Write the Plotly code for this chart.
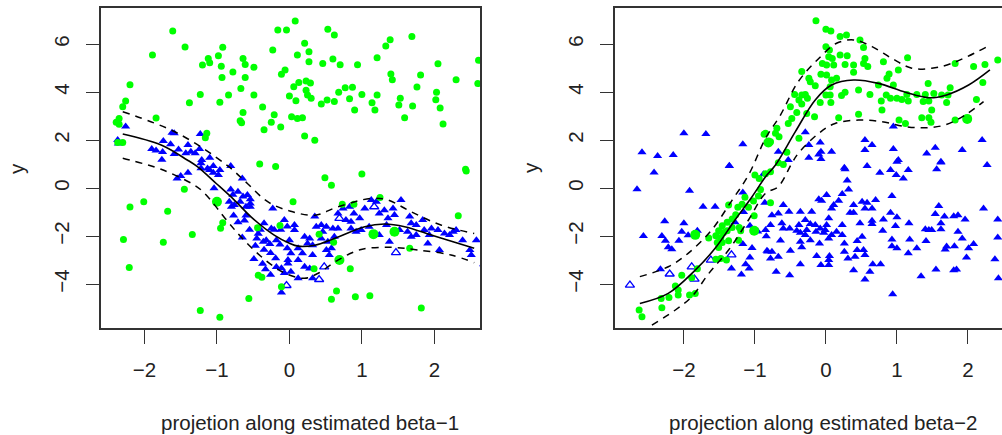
import plotly.graph_objects as go

# ---------------- Left panel: projection along beta-1 ----------------
green1_x = [-1.61,-0.16,-0.04,-1.44,-0.92,-1.89,-0.23,-1.12,-0.98,-0.64,-1.20,-1.10,-0.94,-0.61,-0.49,-0.78,-0.93,-0.61,-0.11,-0.06,
            -2.20,-0.67,-1.23,-0.84,-0.49,0.00,-2.26,-1.38,-0.96,-2.30,-0.37,-0.64,-0.21,-0.68,-0.66,-0.25,-0.35,-0.12,-1.84,-2.35,
            -2.39,-2.35,-1.14,-1.16,-2.30,-2.37,-0.41,-0.19,
            0.08,0.53,0.62,0.21,0.11,0.27,0.27,0.46,0.60,0.70,0.94,1.21,1.33,1.39,1.69,2.05,2.61,1.40,1.42,1.81,2.30,2.60,
            0.13,0.23,0.29,0.06,0.77,0.87,0.68,0.23,0.25,0.30,0.09,0.44,0.52,0.62,0.83,1.00,1.21,1.14,0.90,1.18,
            1.53,1.51,1.76,1.70,1.59,2.03,2.02,2.08,2.12,0.03,0.11,0.18,0.21,0.35,2.43,
            -1.45,-2.01,-2.20,-1.68,-0.92,-0.95,-2.29,-1.74,-1.34,-2.21,-0.44,-0.13,-0.43,-0.38,-0.56,-0.11,-1.23,-0.96,
            0.49,0.58,1.00,2.44,0.05,0.73,0.89,1.25,2.33,0.41,0.61,0.84,0.34,1.66,0.65,0.58,0.91,1.11,1.82]
green1_y = [6.54,6.58,6.58,5.88,5.86,5.54,5.75,5.40,5.51,5.40,5.13,5.22,5.07,5.15,5.03,4.83,4.60,4.60,4.74,4.92,
            4.30,4.15,3.90,3.88,3.88,3.83,3.63,3.55,3.57,3.39,3.38,3.15,3.05,2.80,2.72,2.74,2.43,2.54,2.92,2.90,
            2.74,2.66,2.28,2.10,1.90,1.90,1.00,0.90,
            6.96,6.61,6.38,6.03,5.54,5.68,5.26,5.19,5.38,5.14,5.14,5.43,5.92,6.18,6.31,5.18,5.32,4.75,4.51,4.71,4.51,4.35,
            4.40,4.46,4.38,4.22,4.18,4.20,3.99,4.07,3.88,3.74,3.64,3.50,3.67,3.60,3.72,3.90,3.88,3.55,3.25,3.25,
            3.74,3.46,4.21,3.42,2.93,3.99,3.68,3.33,2.67,2.97,2.90,2.93,2.17,1.99,0.78,
            -0.05,-0.57,-0.79,-0.97,-1.45,-1.67,-2.14,-2.26,-1.93,-3.31,-1.65,-1.56,-3.63,-3.72,-4.60,-4.11,-5.10,-5.38,
            0.43,0.12,0.58,0.71,-0.57,-0.68,-0.68,-0.39,-1.15,-1.92,-2.26,-3.36,-3.36,-2.51,-4.29,-4.63,-4.53,-4.49,-5.00]
green1_big_x = [-1.00, 1.16, 1.45, 0.69]
green1_big_y = [-0.57, -1.92, -1.82, -3.00]

blue1_x = [-2.26,-2.37,-2.36,-1.62,-1.59,-1.23,-1.74,-1.64,-1.90,-1.84,-1.75,-1.53,-1.40,-1.36,-1.24,-1.30,-1.43,-1.59,-1.76,-1.21,
           -1.10,-1.22,-1.05,-1.13,-0.81,
           -1.40,-1.55,-1.50,-1.22,-1.10,-1.05,-0.98,-0.96,-1.04,-0.81,-0.71,-0.65,-0.78,-0.64,-0.58,-0.54,-0.83,-0.80,-0.76,-0.68,
           -0.60,-0.54,-0.54,-0.23,-0.77,-0.60,-0.62,-0.71,-0.35,-0.25,-0.21,-0.12,-0.03,-0.55,-0.40,-0.43,-0.65,-0.45,-0.36,-0.32,
           -0.27,-0.18,-0.13,-0.03,-0.47,-0.35,-0.26,-0.19,-0.49,-0.37,-0.33,-0.26,-0.18,-0.11,-0.07,-0.02,-0.11,
           -0.07,0.07,0.07,0.35,0.21,0.28,0.25,0.32,0.00,0.12,0.02,0.18,0.32,-0.02,0.12,0.21,0.28,0.02,0.12,0.32,
           0.44,0.51,0.60,0.46,0.53,0.58,0.51,0.55,0.62,0.67,0.74,0.83,0.78,0.85,0.92,0.89,0.97,1.04,1.13,1.20,
           1.24,1.31,1.36,1.43,1.54,1.45,1.34,1.24,1.38,1.66,1.68,1.63,1.68,1.75,1.84,1.86,1.93,1.96,2.05,2.14,
           2.21,2.26,2.30,2.07,1.91,2.39,2.49,2.58,2.51,2.68,1.52,1.75,1.10,0.99,0.67,0.85,0.37,0.44]
blue1_y = [2.56,2.00,1.86,2.30,2.28,2.25,1.96,1.82,1.63,1.56,1.50,1.61,1.79,1.51,1.63,1.45,1.45,1.42,1.18,1.17,
           1.26,0.82,0.92,0.81,0.92,
           0.64,0.40,0.50,1.03,0.75,0.64,0.54,0.75,-0.01,-0.06,-0.15,0.40,-0.28,-0.35,-0.29,-0.47,-0.57,-0.78,-0.71,-0.57,
           -0.78,-0.78,-0.64,-0.85,-1.14,-1.14,-1.35,-1.43,-1.47,-1.68,-1.74,-1.74,-1.60,-1.74,-1.74,-1.90,-2.06,-2.10,-2.24,-2.17,
           -2.33,-2.17,-2.35,-2.51,-2.40,-2.57,-2.71,-2.92,-2.96,-3.15,-3.38,-3.61,-3.29,-3.34,-3.54,-3.00,-4.35,
           -1.33,-1.54,-1.75,-1.19,-2.03,-2.10,-2.31,-2.38,-2.17,-2.51,-2.72,-2.72,-2.79,-3.14,-3.00,-3.28,-3.35,-3.49,-3.76,-3.76,
           -1.54,-1.61,-1.68,-1.82,-2.24,-2.51,-2.58,-2.79,-2.03,-1.06,-0.85,-0.78,-1.33,-1.40,-1.82,-1.06,-1.26,-0.85,-0.50,-0.57,
           -1.06,-0.92,-1.26,-0.85,-0.50,-1.12,-1.54,-1.96,-2.24,-1.19,-1.47,-1.82,-2.03,-1.54,-1.33,-1.75,-1.96,-1.68,-1.75,-1.89,
           -1.96,-1.82,-1.75,-2.58,-2.31,-2.17,-2.58,-2.17,-2.79,-3.17,-1.75,-1.96,-1.61,-1.75,-1.68,-1.68,-1.61,-2.10]
blue1_open_x = [-0.04, 0.41, 0.48, 0.69, 1.17, 1.47]
blue1_open_y = [-4.06, -3.81, -3.28, -1.26, -0.78, -2.69]

fit1_x = [-2.30,-1.77,-1.41,-1.27,-1.01,-0.76,-0.53,-0.21,0.00,0.12,0.35,0.62,1.04,1.31,1.59,2.00,2.55]
fit1_y = [2.25,1.79,1.17,0.89,0.19,-0.50,-1.20,-1.96,-2.30,-2.42,-2.38,-2.10,-1.61,-1.50,-1.61,-2.00,-2.51]
up1_x = [-2.30,-1.54,-0.85,-0.58,-0.30,0.00,0.35,0.67,1.13,1.36,1.68,2.09,2.55]
up1_y = [3.18,2.28,0.92,0.19,-0.57,-0.95,-1.13,-0.78,-0.43,-0.50,-0.99,-1.54,-1.89]
lo1_x = [-2.30,-1.77,-1.31,-1.17,-0.85,-0.67,-0.44,-0.21,-0.02,0.21,0.39,0.67,0.99,1.40,1.77,2.23,2.55]
lo1_y = [1.24,0.78,0.12,-0.22,-1.40,-2.03,-2.72,-3.28,-3.60,-3.76,-3.56,-3.00,-2.56,-2.47,-2.58,-2.79,-3.11]

# ---------------- Right panel: projection along beta-2 ----------------
green2_x = [-0.87,
            -1.00,-0.94,-0.85,-0.92,-0.95,-1.02,-1.01,-1.09,-1.14,-1.18,-1.37,-1.24,-1.27,-1.32,-1.39,-1.46,-1.51,-1.55,-1.48,-1.44,
            -1.39,-1.32,-1.22,-1.20,-1.23,-1.37,-1.46,-1.53,-1.51,-1.55,-1.48,-1.40,-1.65,-1.81,-2.03,-1.89,-2.12,-2.08,-2.08,-2.21,
            -2.32,-2.31,-1.92,-1.84,-2.63,-2.59,
            -0.14,0.00,0.07,0.20,0.29,0.48,0.53,0.00,0.05,0.04,0.09,0.20,0.30,0.55,0.53,0.59,0.27,0.39,0.81,1.15,
            1.02,0.89,0.86,-0.05,0.01,0.11,-0.07,0.01,0.39,0.15,0.08,-0.34,-0.24,-0.15,-0.22,0.06,0.46,0.27,0.22,0.06,
            0.62,0.74,0.95,0.85,0.91,1.00,1.07,1.16,1.28,1.40,1.52,1.72,1.75,1.63,1.44,1.14,0.78,1.37,1.45,1.70,
            1.49,0.79,0.18,0.46,1.03,1.12,1.35,1.45,1.48,1.82,1.82,2.08,2.24,2.42,2.21,2.12,0.00,-0.08,-0.16,0.07,
            -0.34,-0.38,-0.29,-0.26,-0.44,-0.50,-0.34,-0.41,-0.27,-0.53,-0.48,-0.69,-0.66,-0.71,-0.38,-0.78,-0.85,-0.55,-0.67,-0.60,
            -0.78,-0.78]
green2_y = [2.24,
            0.54,0.40,0.60,-0.06,-0.33,-0.54,-1.15,-0.80,-0.38,-0.67,-0.71,-0.80,-1.11,-1.29,-1.43,-1.57,-1.78,-1.99,-2.06,-1.85,
            -1.78,-1.64,-1.64,-1.78,-2.17,-2.20,-2.27,-2.27,-2.48,-2.97,-2.94,-3.00,-2.08,-3.36,-3.63,-3.74,-4.08,-4.25,-4.46,-4.56,
            -4.60,-4.99,-4.46,-4.39,-5.08,-5.36,
            6.97,6.61,6.54,6.31,6.38,6.17,5.85,5.89,5.75,5.47,5.40,5.54,5.51,5.40,5.19,5.06,5.15,5.13,5.26,5.43,
            4.92,4.75,4.57,5.19,5.13,5.13,4.74,4.71,4.82,4.57,4.50,4.85,4.57,4.26,4.43,4.22,4.08,3.99,3.85,3.88,
            3.90,4.29,4.29,3.88,3.74,3.74,3.69,3.63,3.90,3.90,3.94,3.88,4.18,3.88,4.36,3.90,3.63,3.60,3.63,3.56,
            3.25,3.25,2.93,3.07,2.83,2.69,2.93,2.93,2.74,2.83,5.19,5.06,5.15,5.33,4.40,3.69,3.88,3.56,2.97,3.56,
            3.88,3.67,3.90,3.74,3.90,3.39,3.50,3.15,3.11,2.69,2.90,2.49,2.14,2.28,2.07,1.93,2.28,1.49,1.05,0.98,
            0.68,-0.61]
green2_big_x = [-0.81, -1.84, -1.01, 1.99]
green2_big_y = [1.90, -1.95, -1.78, 2.88]

blue2_x = [-2.59,-2.37,-2.15,-2.00,-1.69,-1.17,-1.36,
           -2.42,-2.66,-1.92,-1.36,-1.73,-1.56,-2.27,-2.57,-2.31,-2.26,-2.22,-2.17,-2.07,-2.03,-2.00,-1.94,-1.81,-1.17,
           -1.16,-1.28,-1.07,-1.17,-1.04,-1.07,-1.13,-1.33,-1.19,-1.08,-2.33,-0.96,-0.84,-0.82,-0.86,-0.88,
           -0.29,-0.67,-0.24,-0.08,-0.07,-0.10,-0.24,0.08,-0.07,0.55,0.65,0.55,0.95,0.95,1.02,1.42,1.54,1.62,1.92,2.20,
           2.27,0.26,-0.53,
           0.27,0.58,0.76,0.91,1.00,0.99,1.09,1.16,1.56,1.62,0.30,0.32,0.23,0.01,-0.10,-0.06,0.11,0.08,0.39,0.34,
           0.39,0.18,0.51,0.58,0.70,0.55,0.65,0.93,0.91,1.00,0.81,0.65,0.65,0.48,0.23,0.04,-0.20,-0.36,-0.52,-0.67,
           -0.60,-0.76,1.17,1.59,1.54,1.67,1.80,1.86,1.96,2.22,2.42,1.62,1.62,1.40,1.45,1.49,1.86,1.92,0.80,0.98,
           1.18,1.41,0.93,0.93,1.00,1.16,1.28,1.70,1.68,1.81,2.01,2.08,1.98,2.42,2.38,2.43,1.84,1.80,1.55,1.34,
           0.94,0.55,0.62,0.39,0.77,0.66,0.55,0.53,0.44,0.41,0.31,0.26,0.26,0.44,0.51,0.23,0.15,0.08,0.04,-0.01,
           -0.08,-0.14,0.05,0.04,-0.07,0.04,-0.13,-0.09,-0.22,-0.34,-0.36,-0.50,-0.64,-0.67,-0.78,-0.76,-0.83,-0.36,-0.51,-0.70,
           -0.36,-0.29,-0.27,-0.15,-0.03,0.01,-0.41,-0.38,-0.29,-0.22,-0.62,-0.60,-0.78,-0.85,-0.51]
blue2_y = [1.49,1.33,1.38,2.28,2.25,1.82,0.92,
           0.65,-0.05,-0.11,0.93,-0.78,-0.78,-1.38,-2.00,-2.00,-2.20,-2.47,-2.55,-2.20,-1.82,-1.47,-1.97,-1.78,-0.19,
           -1.00,-1.43,-1.57,-2.33,-2.50,-2.89,-3.17,-3.35,-3.60,-3.35,-3.38,-1.81,-2.01,-2.64,-0.61,0.57,
           2.32,1.51,1.79,1.90,1.51,1.40,1.26,1.51,1.21,2.00,1.79,1.58,2.56,1.63,1.17,1.44,1.68,1.10,1.58,2.00,
           0.96,0.85,1.17,
           0.78,0.92,0.64,0.75,1.10,0.54,0.40,0.75,0.78,1.06,0.31,-0.06,-0.25,-0.29,-0.47,-0.53,-0.71,-0.85,-0.71,-1.03,
           -1.03,-0.53,-0.57,-0.61,-0.50,-0.85,-0.85,-0.33,-1.03,-1.22,-1.31,-1.36,-1.50,-1.47,-1.54,-1.26,-0.99,-0.99,-0.99,-1.06,
           -0.71,-1.13,-1.47,-0.75,-1.08,-1.19,-1.17,-1.13,-1.31,-0.85,-1.31,-1.47,-1.72,-1.72,-1.75,-1.75,-1.82,-2.10,-1.78,-1.58,
           -2.14,-2.21,-2.14,-2.42,-2.51,-2.72,-2.51,-2.44,-2.56,-2.42,-2.51,-2.33,-2.89,-2.06,-2.97,-3.76,-3.39,-3.42,-3.39,-3.67,
           -4.42,-3.81,-3.49,-3.42,-3.17,-3.17,-2.79,-2.58,-2.58,-2.86,-2.93,-2.65,-2.31,-2.21,-2.03,-1.96,-1.82,-1.96,-2.10,-1.75,
           -1.68,-1.82,-2.83,-3.00,-3.21,-3.21,-2.83,-2.31,-2.17,-2.47,-2.24,-2.61,-2.19,-2.86,-2.93,-2.65,-2.61,-3.17,-3.63,-3.49,
           -1.86,-1.96,-1.75,-1.54,-1.86,-1.54,-1.78,-1.54,-1.33,-1.50,-1.47,-1.68,-1.54,-1.75,-1.68]
blue2_open_x = [-1.33, -1.62, -1.89, -1.85, -2.20, -2.76]
blue2_open_y = [-2.78, -3.00, -3.28, -3.79, -3.58, -4.04]

fit2_x = [-2.62,-2.22,-1.84,-1.56,-1.28,-1.04,-0.85,-0.71,-0.43,-0.15,0.08,0.39,0.74,1.12,1.45,1.70,2.01,2.31]
fit2_y = [-4.81,-4.39,-3.42,-2.51,-1.33,-0.36,0.47,0.96,2.35,3.67,4.29,4.50,4.36,3.99,3.76,3.88,4.29,4.92]
up2_x = [-2.62,-2.22,-1.94,-1.61,-1.32,-1.09,-0.85,-0.64,-0.39,-0.10,0.15,0.39,0.65,0.93,1.21,1.49,1.77,2.27]
up2_y = [-3.69,-3.28,-2.72,-1.75,-0.50,0.54,2.07,3.04,4.43,5.40,6.03,6.17,5.89,5.40,4.99,4.99,5.19,5.89]
lo2_x = [-2.45,-2.12,-1.89,-1.65,-1.37,-1.09,-0.85,-0.67,-0.48,-0.39,-0.10,0.13,0.46,0.79,1.12,1.40,1.68,1.96,2.22]
lo2_y = [-5.71,-5.08,-4.53,-3.56,-2.58,-1.33,-0.22,0.06,1.03,1.44,2.28,2.69,2.83,2.76,2.56,2.51,2.63,3.04,3.60]

x_ticks = [-2, -1, 0, 1, 2]
y_ticks = [-4, -2, 0, 2, 4, 6]
x_titles = ["projetion along estimated beta\u22121", "projection along estimated beta\u22122"]
y_title = "y"

GREEN = "#00FF00"
BLUE = "#0000FF"
FONT = "Liberation Sans, Arial, sans-serif"
FS = 20.5

fig = go.Figure()

panels = [
    (green1_x, green1_y, green1_big_x, green1_big_y, blue1_x, blue1_y, blue1_open_x, blue1_open_y,
     fit1_x, fit1_y, up1_x, up1_y, lo1_x, lo1_y, "x", "y"),
    (green2_x, green2_y, green2_big_x, green2_big_y, blue2_x, blue2_y, blue2_open_x, blue2_open_y,
     fit2_x, fit2_y, up2_x, up2_y, lo2_x, lo2_y, "x2", "y2"),
]
for (gx, gy, gbx, gby, bx, by, box_, boy, fx, fy, ux, uy, lx, ly, xa, ya) in panels:
    fig.add_trace(go.Scatter(x=bx, y=by, mode="markers", xaxis=xa, yaxis=ya,
                             marker=dict(symbol="triangle-up", size=8, color=BLUE, line=dict(width=0))))
    fig.add_trace(go.Scatter(x=box_, y=boy, mode="markers", xaxis=xa, yaxis=ya,
                             marker=dict(symbol="triangle-up-open", size=8, color=BLUE, line=dict(width=1.3, color=BLUE))))
    fig.add_trace(go.Scatter(x=gx, y=gy, mode="markers", xaxis=xa, yaxis=ya,
                             marker=dict(symbol="circle", size=7, color=GREEN, line=dict(width=0))))
    fig.add_trace(go.Scatter(x=gbx, y=gby, mode="markers", xaxis=xa, yaxis=ya,
                             marker=dict(symbol="circle", size=10, color=GREEN, line=dict(width=0))))
    fig.add_trace(go.Scatter(x=fx, y=fy, mode="lines", xaxis=xa, yaxis=ya,
                             line=dict(color="black", width=1.6, shape="spline", smoothing=1)))
    for cx, cy in ((ux, uy), (lx, ly)):
        fig.add_trace(go.Scatter(x=cx, y=cy, mode="lines", xaxis=xa, yaxis=ya,
                                 line=dict(color="black", width=1.5, shape="spline", smoothing=1, dash="7px,6px")))

W, H = 1002, 435
ydom = [1 - 328 / H, 1 - 8 / H]
yrange = [-5.83, 7.5]
axis_common = dict(showgrid=False, zeroline=False, showline=True, linecolor="#333", linewidth=1.6,
                   ticks="outside", tickwidth=1.4, tickcolor="#333",
                   tickfont=dict(family=FONT, size=FS, color="#222"))

ann_font = dict(family=FONT, size=FS, color="#222")
fig.update_layout(
    width=W, height=H, margin=dict(l=0, r=0, t=0, b=0),
    paper_bgcolor="white", plot_bgcolor="white", showlegend=False,
    font=dict(family=FONT, size=FS, color="#222"),
    xaxis=dict(domain=[101 / W, 480 / W], range=[-2.60, 2.63], tickvals=x_ticks, anchor="y",
               mirror=True, ticklen=14, ticklabelstandoff=9, **axis_common),
    yaxis=dict(domain=ydom, range=yrange, tickvals=y_ticks, anchor="x", tickangle=-90,
               mirror=True, ticklen=13, ticklabelstandoff=9, **axis_common),
    xaxis2=dict(domain=[615 / W, 1.0], range=[-2.97, 2.48], tickvals=x_ticks, anchor="y2",
                mirror=True, ticklen=14, ticklabelstandoff=9, **axis_common),
    yaxis2=dict(domain=ydom, range=yrange, tickvals=y_ticks, anchor="x2", tickangle=-90,
                mirror=False, ticklen=13, ticklabelstandoff=9, **axis_common),
    annotations=[
        dict(text=y_title, x=16 / W, y=1 - 168 / H, xref="paper", yref="paper", showarrow=False,
             xanchor="center", yanchor="middle", textangle=-90, font=ann_font),
        dict(text=y_title, x=530 / W, y=1 - 168 / H, xref="paper", yref="paper", showarrow=False,
             xanchor="center", yanchor="middle", textangle=-90, font=ann_font),
        dict(text=x_titles[0], x=310 / W, y=1 - 422 / H, xref="paper", yref="paper", showarrow=False,
             xanchor="center", yanchor="middle", font=ann_font),
        dict(text=x_titles[1], x=823 / W, y=1 - 422 / H, xref="paper", yref="paper", showarrow=False,
             xanchor="center", yanchor="middle", font=ann_font),
    ],
)

fig.write_html("out.html")
